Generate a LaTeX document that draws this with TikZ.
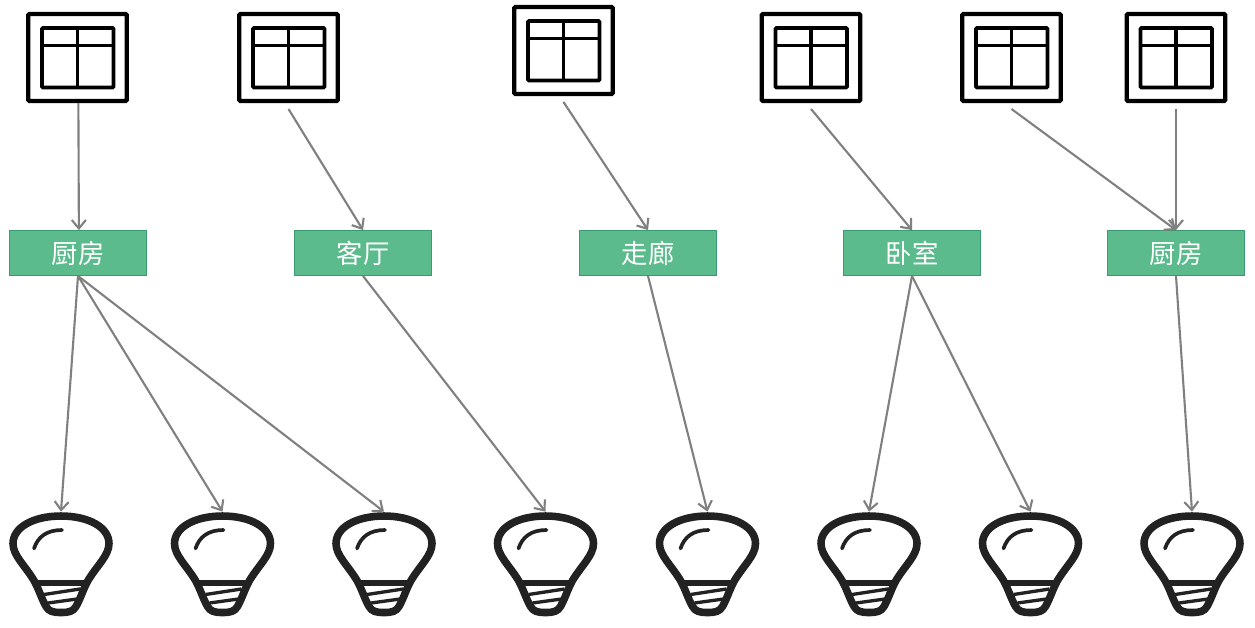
\documentclass[tikz,border=0pt]{standalone}
\usepackage{fontspec}
\usepackage{xcolor}
\usetikzlibrary{arrows.meta}
\newfontfamily\cjkfont{Noto Sans CJK SC}
\definecolor{roomgreen}{HTML}{5BBB8D}
\definecolor{roomedge}{HTML}{3A9A70}
\definecolor{wiregray}{HTML}{808080}
\definecolor{bulbdark}{HTML}{222222}
\tikzset{
  switchbox/.style={draw=black,line width=2.3pt,rounded corners=0.6pt,inner sep=0,minimum width=1.97cm,minimum height=1.74cm},
  room/.style={draw=roomedge,line width=0.5pt,fill=roomgreen,text=white,inner sep=0,minimum width=2.74cm,minimum height=0.9cm,font=\cjkfont\fontsize{15}{16}\selectfont},
  bulbspot/.style={inner sep=0,minimum width=2.06cm,minimum height=2.06cm},
  wire/.style={draw=wiregray,line width=1.2pt,-{Straight Barb[length=4.8pt,width=8pt,line width=1.2pt]}},
  pane/.pic={
    \draw[black,line width=2.2pt,rounded corners=0.6pt] (-35.5,-29.5) rectangle (36,30);
    \draw[black,line width=2.2pt] (0,-29.5) -- (0,30);
    \draw[black,line width=2.2pt] (-35.5,-12) -- (36,-12);
  },
  bulb/.pic={
    \draw[bulbdark,line width=4.3pt,line join=round] (0,-47.5) .. controls (28,-47.5) and (48,-36) .. (48,-20)
      .. controls (48,-8) and (36,2) .. (27,17) .. controls (22,26) and (20,34) .. (15,43)
      .. controls (12,48) and (8,49) .. (0,49) .. controls (-8,49) and (-12,48) .. (-15,43)
      .. controls (-20,34) and (-22,26) .. (-27,17) .. controls (-36,2) and (-48,-8) .. (-48,-20)
      .. controls (-48,-36) and (-28,-47.5) .. (0,-47.5) -- cycle;
    \draw[bulbdark,line width=3.4pt] (-25,19.5) -- (25,19.5);
    \draw[bulbdark,line width=1.9pt] (-17,31) -- (19,25.5);
    \draw[bulbdark,line width=1.9pt] (-13,39.5) -- (16,35.5);
    \draw[bulbdark,line width=2.1pt,line cap=round] (1,-33.5) .. controls (-14,-33.5) and (-23,-27) .. (-27,-15);
  }
}

\begin{document}
\begin{tikzpicture}[x=0.02cm,y=-0.02cm]
  \useasboundingbox (0,0) rectangle (1255,627);
  % switches
  \node[switchbox] (sw1) at (77.5,57.5) {};
  \node[switchbox] (sw2) at (288.5,57.5) {};
  \node[switchbox] (sw3) at (563.5,50.5) {};
  \node[switchbox] (sw4) at (811,57.5) {};
  \node[switchbox] (sw5) at (1011.5,57.5) {};
  \node[switchbox] (sw6) at (1176,57.5) {};
  \pic at (sw1) {pane};
  \pic at (sw2) {pane};
  \pic at (sw3) {pane};
  \pic at (sw4) {pane};
  \pic at (sw5) {pane};
  \pic at (sw6) {pane};
  % rooms
  \node[room] (room1) at (78,253) {厨房};
  \node[room] (room2) at (363,253) {客厅};
  \node[room] (room3) at (648,253) {走廊};
  \node[room] (room4) at (912,253) {卧室};
  \node[room] (room5) at (1176,253) {厨房};
  % bulbs
  \node[bulbspot] (bulb1) at (61,563.5) {};
  \node[bulbspot] (bulb2) at (222.5,563.5) {};
  \node[bulbspot] (bulb3) at (384,563.5) {};
  \node[bulbspot] (bulb4) at (545.5,563.5) {};
  \node[bulbspot] (bulb5) at (707.5,563.5) {};
  \node[bulbspot] (bulb6) at (869,563.5) {};
  \node[bulbspot] (bulb7) at (1030.5,563.5) {};
  \node[bulbspot] (bulb8) at (1192,563.5) {};
  \pic at (bulb1) {bulb};
  \pic at (bulb2) {bulb};
  \pic at (bulb3) {bulb};
  \pic at (bulb4) {bulb};
  \pic at (bulb5) {bulb};
  \pic at (bulb6) {bulb};
  \pic at (bulb7) {bulb};
  \pic at (bulb8) {bulb};
  % switch to room
  \draw[wire] ([xshift=0.5pt]sw1.south) -- ([xshift=0.5pt]room1.north);
  \draw[wire] ([yshift=-3.4pt]sw2.south) -- (room2.north);
  \draw[wire] ([yshift=-3.4pt]sw3.south) -- (room3.north);
  \draw[wire] ([yshift=-3.4pt]sw4.south) -- (room4.north);
  \draw[wire] ([yshift=-3.4pt]sw5.south) -- (room5.north);
  \draw[wire] ([yshift=-3.4pt]sw6.south) -- (room5.north);
  % room to bulb
  \draw[wire] (room1.south) -- (bulb1.north);
  \draw[wire] (room1.south) -- (bulb2.north);
  \draw[wire] (room1.south) -- (bulb3.north);
  \draw[wire] (room2.south) -- (bulb4.north);
  \draw[wire] (room3.south) -- (bulb5.north);
  \draw[wire] (room4.south) -- (bulb6.north);
  \draw[wire] (room4.south) -- (bulb7.north);
  \draw[wire] (room5.south) -- (bulb8.north);
\end{tikzpicture}
\end{document}
